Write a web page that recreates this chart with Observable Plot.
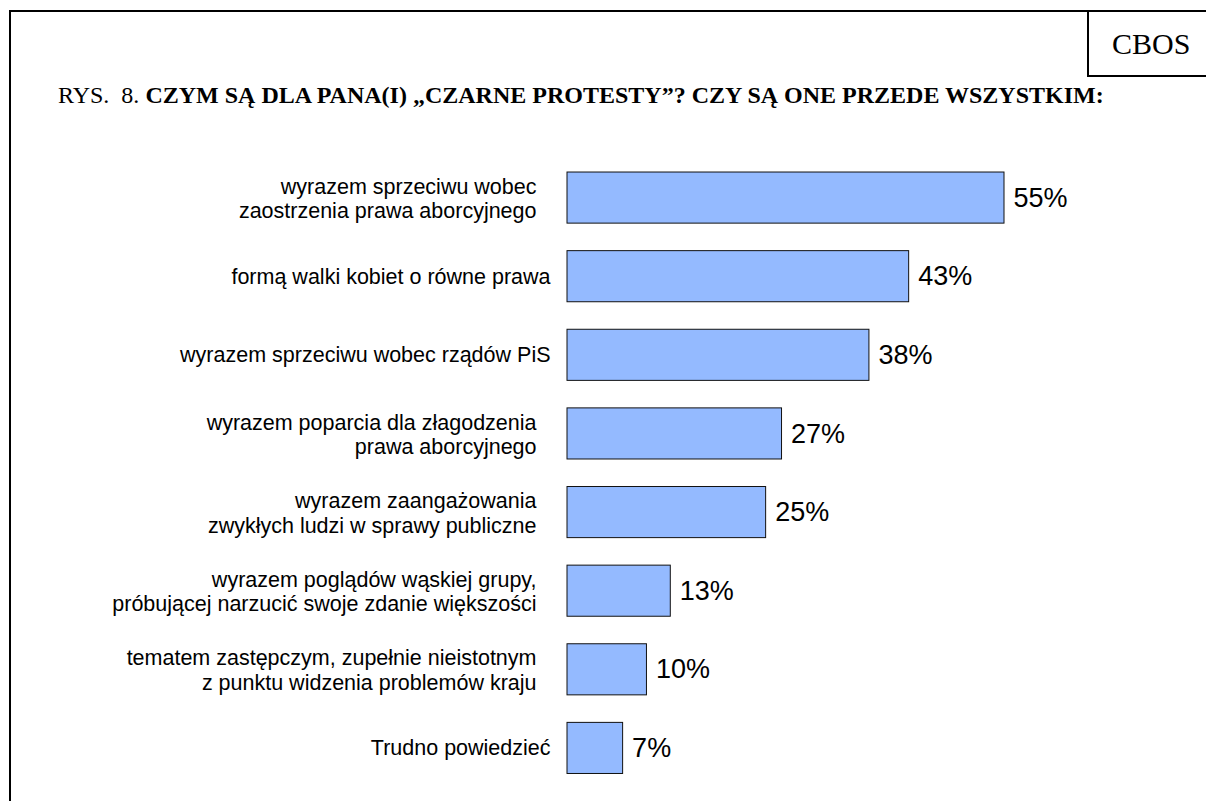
<!DOCTYPE html>
<html>
<head>
<meta charset="utf-8">
<script src="https://cdn.jsdelivr.net/npm/d3@7"></script>
<script src="https://cdn.jsdelivr.net/npm/@observablehq/plot@0.6"></script>
<style>
  html, body { margin: 0; padding: 0; background: #fff; overflow: hidden; }
  #page { position: relative; width: 1206px; height: 801px; overflow: hidden; }
  #frame { position: absolute; left: 9px; top: 10px; width: 1400px; height: 1000px; border: 2px solid #000; box-sizing: border-box; }
  #cbos { position: absolute; left: 1087px; top: 10px; width: 300px; height: 67px; border: 2px solid #000; box-sizing: border-box;
          font-family: "Liberation Serif", "Times New Roman", serif; font-size: 30px; line-height: 63px; padding-left: 23px; color: #000; }
  #title { position: absolute; left: 58px; top: 82px; font-family: "Liberation Serif", "Times New Roman", serif; font-size: 24px; color: #000; white-space: nowrap; }
  #title b { font-weight: bold; }
  #chart { position: absolute; left: 0; top: 0; }
</style>
</head>
<body>
<div id="page">
  <div id="frame"></div>
  <div id="cbos">CBOS</div>
  <div id="title">RYS.&nbsp; 8. <b>CZYM SĄ DLA PANA(I) „CZARNE PROTESTY”? CZY SĄ ONE PRZEDE WSZYSTKIM:</b></div>
  <div id="chart"></div>
</div>
<script>
const categories = [
  "wyrazem sprzeciwu wobec\nzaostrzenia prawa aborcyjnego",
  "formą walki kobiet o równe prawa",
  "wyrazem sprzeciwu wobec rządów PiS",
  "wyrazem poparcia dla złagodzenia\nprawa aborcyjnego",
  "wyrazem zaangażowania\nzwykłych ludzi w sprawy publiczne",
  "wyrazem poglądów wąskiej grupy,\npróbującej narzucić swoje zdanie większości",
  "tematem zastępczym, zupełnie nieistotnym\nz punktu widzenia problemów kraju",
  "Trudno powiedzieć"
];
const values = [55, 43, 38, 27, 25, 13, 10, 7];

const data = categories.map((c, i) => ({category: c, value: values[i]}));
const isMulti = d => d.category.includes("\n");

const labelFont = "Liberation Sans, Arial, sans-serif";

const chart = Plot.plot({
  width: 1206,
  height: 801,
  marginLeft: 567,
  marginRight: 202,
  marginTop: 144.5,
  marginBottom: 0,
  style: {background: "transparent", overflow: "visible"},
  x: {domain: [0, 55], axis: null},
  y: {domain: categories, padding: 0.35, round: false, axis: null},
  marks: [
    Plot.barX(data, {x: "value", y: "category", fill: "#94baff", stroke: "#111", strokeWidth: 1}),
    Plot.text(data, {x: "value", y: "category", text: d => d.value + "%", textAnchor: "start", dx: 9,
      fontSize: 27, fontFamily: labelFont, fill: "#000"}),
    Plot.text(data.filter(d => !isMulti(d)), {x: 0, y: "category", text: "category", textAnchor: "end", dx: -17,
      fontSize: 21.5, fontFamily: labelFont, fill: "#000"}),
    Plot.text(data.filter(isMulti), {x: 0, y: "category", text: "category", textAnchor: "end", dx: -31, lineHeight: 1.15,
      fontSize: 21.5, fontFamily: labelFont, fill: "#000"})
  ]
});
document.getElementById("chart").appendChild(chart);
</script>
</body>
</html>
